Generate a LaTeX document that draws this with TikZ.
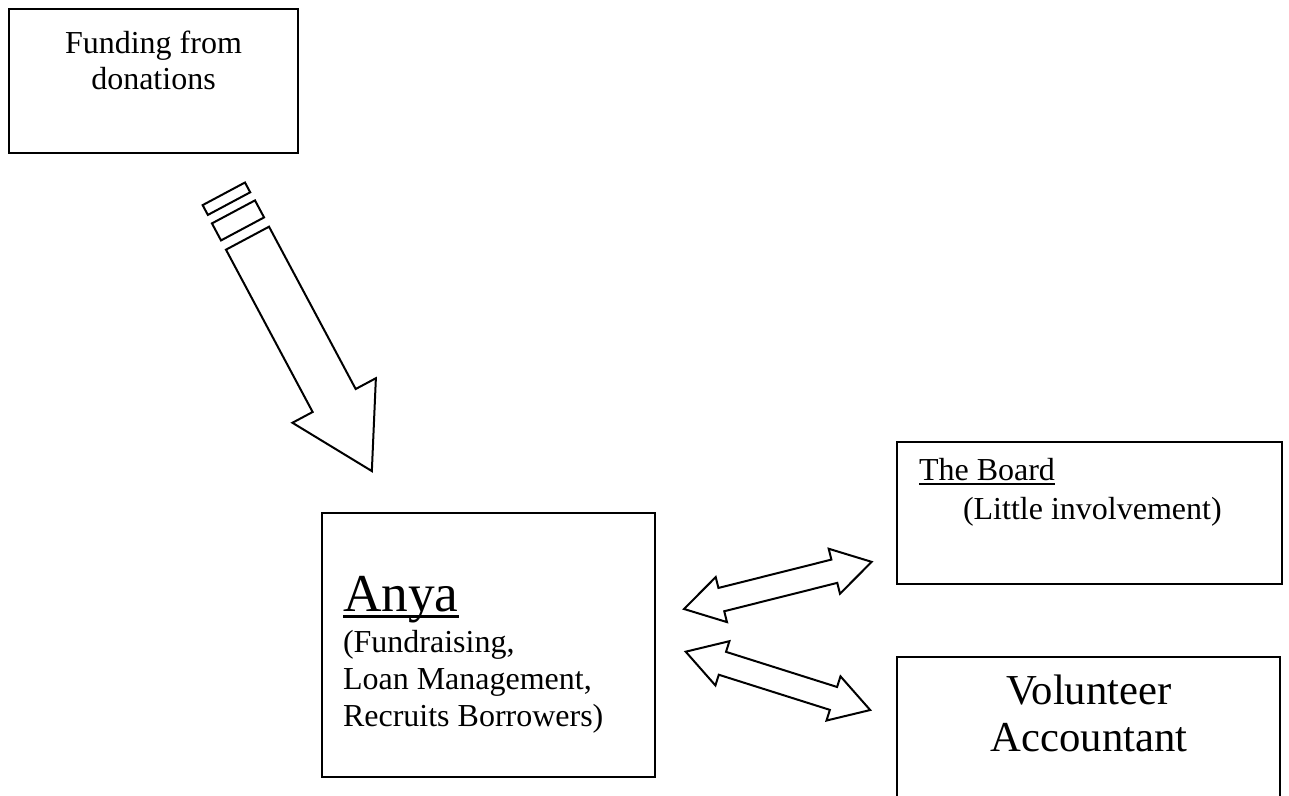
\documentclass[tikz,border=0pt]{standalone}
\usepackage{fontspec}
\setmainfont{Liberation Serif}
% underline at a fixed depth, crossing the descenders
\newcommand{\wordul}[1]{\setbox0\hbox{#1}\rlap{\rule[-0.11em]{\wd0}{0.05em}}\box0}

\begin{document}
\begin{tikzpicture}[x=0.375pt,y=-0.375pt,line width=0.75pt,
    box/.style={draw,rectangle,inner sep=0pt},
    txt/.style={inner sep=0pt,font=\fontsize{12}{13.8}\selectfont},
    big/.style={inner sep=0pt,font=\fontsize{16}{18.4}\selectfont}]
    \useasboundingbox (0,0) rectangle (1289,796);
    \clip (0,0) rectangle (1289,796);

    % the boxes
    \node[box,minimum width=108.4pt,minimum height=54pt] (fund) at (153.5,81) {};
    \node[box,minimum width=124.9pt,minimum height=99pt] (anya) at (488.5,645) {};
    \node[box,minimum width=144.4pt,minimum height=53.25pt] (board) at (1089.5,513) {};
    \node[box,minimum width=143.6pt,minimum height=75pt] (volunteer) at (1088.5,757) {};

    % texts of the boxes
    \node[txt,anchor=base] (fund1) at (153.5,54) {Funding from};
    \node[txt,anchor=base] (fund2) at (153.5,90) {donations};
    \node[inner sep=0pt,anchor=base west,font=\fontsize{20}{23}\selectfont] (anya0) at (342,612) {\wordul{Anya}};
    \node[txt,anchor=base west] (anya1) at (342,653) {(Fundraising,};
    \node[txt,anchor=base west] (anya2) at (342,690) {Loan Management,};
    \node[txt,anchor=base west] (anya3) at (342,727) {Recruits Borrowers)};
    \node[txt,anchor=base west] (board1) at (918,481) {\wordul{The Board}};
    \node[txt,anchor=base west] (board2) at (962,520) {(Little involvement)};
    \node[big,anchor=base] (vol1) at (1089,705) {Volunteer};
    \node[big,anchor=base] (vol2) at (1089,752) {Accountant};

    % striped arrow from the donations
    \coordinate (feed) at (247.5,238.2);
    \begin{scope}[shift={(feed)},rotate=-61.9]
      \draw (-50.3,-24) rectangle (-39.2,24);
      \draw (-29.8,-24.4) rectangle (-10.5,24.4);
      \draw (0,-24.4) -- (184,-24.4) -- (184,-47.3) -- (264,0)
            -- (184,47.3) -- (184,24.4) -- (0,24.4) -- cycle;
    \end{scope}

    % two way arrows to the board and the accountant
    \foreach \x/\y/\a/\n in {684/609/14.1/1,685.7/651.7/-17.55/2}
    {
      \pgfmathsetmacro{\l}{193.5} % length of the arrow
      \pgfmathsetmacro{\h}{38.5} % length of a head
      \coordinate (link\n) at (\x,\y);
      \begin{scope}[shift={(link\n)},rotate=\a]
        \draw (0,0) -- (\h,-23.2) -- (\h,-12) -- (\l-\h,-12) -- (\l-\h,-23.2)
              -- (\l,0) -- (\l-\h,23.2) -- (\l-\h,12) -- (\h,12) -- (\h,23.2) -- cycle;
      \end{scope}
    };
\end{tikzpicture}
\end{document}
